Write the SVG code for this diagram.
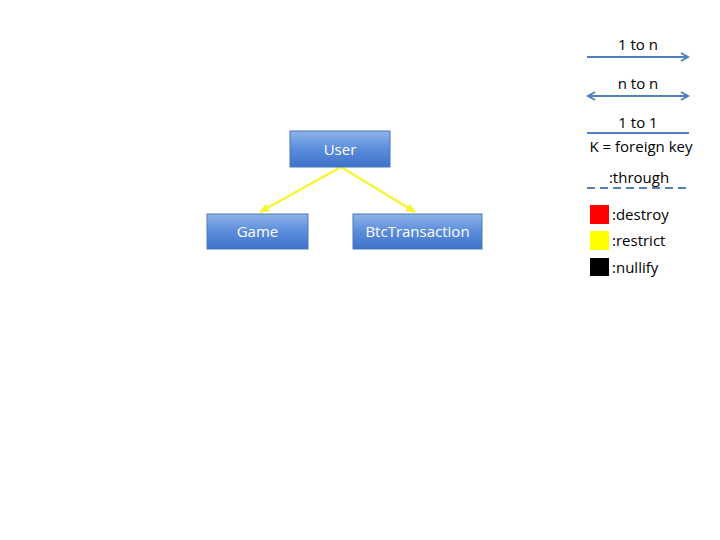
<svg xmlns="http://www.w3.org/2000/svg" width="720" height="540" viewBox="0 0 720 540">
<defs>
<linearGradient id="bg" x1="0" y1="0" x2="0" y2="1">
<stop offset="0" stop-color="#8fb3e8"/>
<stop offset="0.5" stop-color="#5b8ddc"/>
<stop offset="1" stop-color="#3e72c9"/>
</linearGradient>
<marker id="ya" markerWidth="12" markerHeight="12" refX="9" refY="6" orient="auto" markerUnits="userSpaceOnUse">
<path d="M0,1.5 L10,6 L0,10.5 Z" fill="#f5f536"/>
</marker>
<marker id="ba" markerWidth="10" markerHeight="10" refX="8" refY="5" orient="auto" markerUnits="userSpaceOnUse">
<path d="M1,1 L8,5 L1,9" fill="none" stroke="#4f81bd" stroke-width="2"/>
</marker>
<marker id="bs" markerWidth="10" markerHeight="10" refX="2" refY="5" orient="auto" markerUnits="userSpaceOnUse">
<path d="M9,1 L2,5 L9,9" fill="none" stroke="#4f81bd" stroke-width="2"/>
</marker>
</defs>
<style>
.box{fill:url(#bg);stroke:#4a78b8;stroke-width:1}
.lbl{font-family:"Open Sans","Liberation Sans",sans-serif;font-size:15px;fill:#ffffff;text-anchor:middle}
.lg{font-family:"Open Sans","Liberation Sans",sans-serif;font-size:15px;fill:#000000}
.bl{stroke:#4f81bd;stroke-width:2;fill:none}
.yl{stroke:#f5f536;stroke-width:2.5;fill:none}
</style>
<rect width="720" height="540" fill="#ffffff"/>
<g id="connectors">
<line class="yl" x1="341" y1="167" x2="260" y2="212" marker-end="url(#ya)"/>
<line class="yl" x1="341" y1="167" x2="415" y2="212" marker-end="url(#ya)"/>
</g>
<g id="node-user">
<rect class="box" x="290" y="131" width="100" height="36"/>
<text class="lbl" x="340" y="155">User</text>
</g>
<g id="node-game">
<rect class="box" x="207" y="214" width="101" height="35"/>
<text class="lbl" x="257.5" y="237">Game</text>
</g>
<g id="node-btc">
<rect class="box" x="353" y="214" width="129" height="35"/>
<text class="lbl" x="417.5" y="237">BtcTransaction</text>
</g>
<g id="legend">
<text class="lg" x="638" y="50" text-anchor="middle">1 to n</text>
<line class="bl" x1="587" y1="57" x2="688" y2="57" marker-end="url(#ba)"/>
<text class="lg" x="638" y="89" text-anchor="middle">n to n</text>
<line class="bl" x1="588" y1="96" x2="688" y2="96" marker-end="url(#ba)" marker-start="url(#bs)"/>
<text class="lg" x="638" y="128" text-anchor="middle">1 to 1</text>
<line class="bl" x1="587" y1="133" x2="689" y2="133"/>
<text class="lg" x="641" y="152" text-anchor="middle">K = foreign key</text>
<text class="lg" x="639" y="183" text-anchor="middle">:through</text>
<line class="bl" x1="587" y1="188" x2="690" y2="188" stroke-dasharray="8,5"/>
<rect x="590" y="205" width="19" height="19" fill="#ff0000"/>
<text class="lg" x="612" y="220">:destroy</text>
<rect x="590" y="231" width="19" height="19" fill="#ffff00"/>
<text class="lg" x="612" y="246">:restrict</text>
<rect x="590" y="258" width="19" height="18" fill="#000000"/>
<text class="lg" x="612" y="273">:nullify</text>
</g>
</svg>
